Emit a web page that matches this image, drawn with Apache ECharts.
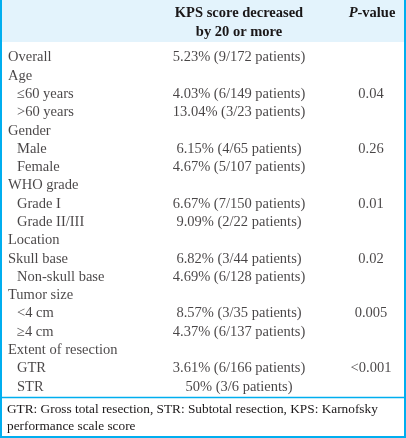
<!DOCTYPE html>
<html><head><meta charset="utf-8">
<script src="https://cdn.jsdelivr.net/npm/echarts@6/dist/echarts.min.js"></script>
<style>html,body{margin:0;padding:0;background:#fff}#c{width:406px;height:438px}</style>
</head><body><div id="c"></div>
<script>
// ---- data ----
var rowLabels = ['Overall','Age','\u226460 years','>60 years','Gender','Male','Female','WHO grade','Grade I','Grade II/III','Location','Skull base','Non-skull base','Tumor size','<4 cm','\u22654 cm','Extent of resection','GTR','STR'];
var rowLevel  = [0,0,1,1,0,1,1,0,1,1,0,0,1,0,1,1,0,1,1];
var pctValues = [5.23,null,4.03,13.04,null,6.15,4.67,null,6.67,9.09,null,6.82,4.69,null,8.57,4.37,null,3.61,50];
var events    = [9,null,6,3,null,4,5,null,7,2,null,3,6,null,3,6,null,6,3];
var totals    = [172,null,149,23,null,65,107,null,150,22,null,44,128,null,35,137,null,166,6];
var pValues   = [null,null,'0.04',null,null,'0.26',null,null,'0.01',null,null,'0.02',null,null,'0.005',null,null,'<0.001',null];
var headerCol2 = ['KPS score decreased','by 20 or more'];
var headerCol3 = 'P-value';
var footnote = ['GTR: Gross total resection, STR: Subtotal resection, KPS: Karnofsky','performance scale score'];

// ---- build ----
var FONT = '"Liberation Serif", "DejaVu Serif", serif';
var TXT = '#1a1718';
var BLUE = '#00aeef';
var COL = {label: 8, indent: 9, kps: 239, p: 371};

var labelData = [], kpsData = [], pData = [];
rowLabels.forEach(function (l, i) {
  labelData.push({value: [COL.label + rowLevel[i] * COL.indent, i], text: l});
  if (pctValues[i] !== null) kpsData.push({value: [COL.kps, i], text: String(pctValues[i]) + '% (' + events[i] + '/' + totals[i] + ' patients)'});
  if (pValues[i] !== null) pData.push({value: [COL.p, i], text: pValues[i]});
});

function textSeries(data, align) {
  return {
    type: 'scatter', data: data, symbolSize: 0, silent: true,
    label: {show: true, position: 'inside', align: align, verticalAlign: 'middle',
      fontFamily: FONT, fontSize: 14.5, color: TXT,
      formatter: function (p) { return p.data.text; }}
  };
}

var chart = echarts.init(document.getElementById('c'), null, {renderer: 'canvas'});
chart.setOption({
  backgroundColor: '#fff',
  animation: false,
  grid: {left: 0, right: 0, top: 48.4, bottom: 42},
  xAxis: {type: 'value', min: 0, max: 406, show: false},
  yAxis: {type: 'category', data: rowLabels.map(function (_, i) { return i; }), inverse: true, show: false},
  graphic: [
    {type: 'rect', z: -1, shape: {x: 0, y: 0, width: 406, height: 42}, style: {fill: '#e3f3fc'}},
    {type: 'line', shape: {x1: 0, y1: 397.5, x2: 406, y2: 397.5}, style: {stroke: BLUE, lineWidth: 1.5}},
    {type: 'rect', shape: {x: 1, y: -5, width: 404, height: 442}, style: {fill: null, stroke: BLUE, lineWidth: 2}},
    {type: 'text', x: COL.kps, y: 13, style: {text: headerCol2[0], font: 'bold 14.5px ' + FONT, fill: TXT, align: 'center', verticalAlign: 'middle'}},
    {type: 'text', x: COL.kps, y: 32, style: {text: headerCol2[1], font: 'bold 14.5px ' + FONT, fill: TXT, align: 'center', verticalAlign: 'middle'}},
    {type: 'text', x: 372, y: 13, style: {text: '{i|' + headerCol3.charAt(0) + '}{b|' + headerCol3.slice(1) + '}', align: 'center', verticalAlign: 'middle',
      rich: {i: {fontFamily: FONT, fontSize: 14.5, fontWeight: 'bold', fontStyle: 'italic', fill: TXT},
             b: {fontFamily: FONT, fontSize: 14.5, fontWeight: 'bold', fill: TXT}}}},
    {type: 'text', x: 7, y: 410, style: {text: footnote[0], font: '13.3px ' + FONT, fill: TXT, align: 'left', verticalAlign: 'middle'}},
    {type: 'text', x: 7, y: 427, style: {text: footnote[1], font: '13.3px ' + FONT, fill: TXT, align: 'left', verticalAlign: 'middle'}}
  ],
  series: [textSeries(labelData, 'left'), textSeries(kpsData, 'center'), textSeries(pData, 'center')]
});
</script></body></html>
